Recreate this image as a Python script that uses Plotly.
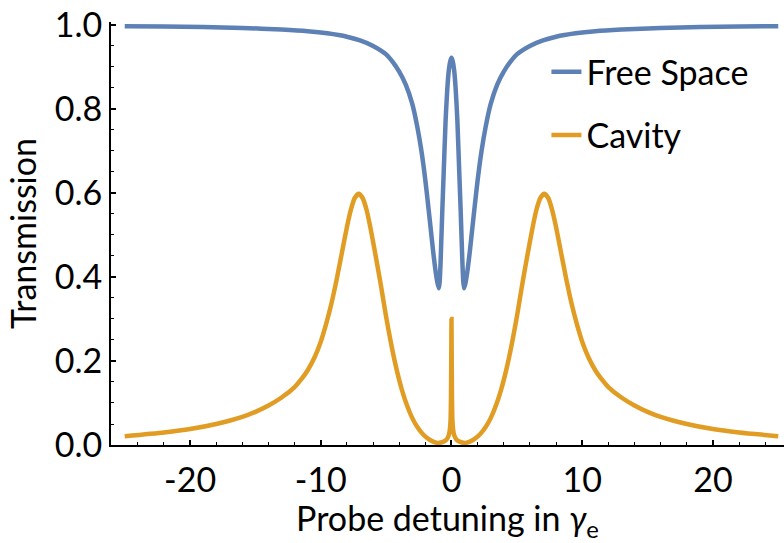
import plotly.graph_objects as go

# ---- data ----
free_x = [-25, -22, -19, -16, -13, -11, -9.5, -8, -7, -6, -5, -4.5, -4, -3.5, -3,
          -2.6, -2.3, -2.0, -1.8, -1.6, -1.4, -1.2, -1.08, -0.96, -0.9, -0.84, -0.78, -0.7,
          -0.6, -0.45, -0.32, -0.2, -0.1,
          0,
          0.1, 0.2, 0.32, 0.45, 0.6,
          0.7, 0.78, 0.84, 0.9, 0.96, 1.08, 1.2, 1.4, 1.6, 1.8, 2.0, 2.3, 2.6,
          3, 3.5, 4, 4.5, 5, 6, 7, 8, 9.5, 11, 13, 16, 19, 22, 25]
free_y = [0.997, 0.996, 0.995, 0.993, 0.989, 0.985, 0.980, 0.972, 0.963, 0.950, 0.930, 0.912, 0.889, 0.858, 0.812,
          0.755, 0.700, 0.630, 0.575, 0.518, 0.460, 0.410, 0.387, 0.373, 0.390, 0.430, 0.485, 0.560,
          0.645, 0.772, 0.848, 0.893, 0.913,
          0.922,
          0.913, 0.893, 0.848, 0.772, 0.645,
          0.560, 0.485, 0.430, 0.390, 0.373, 0.387, 0.410, 0.460, 0.518, 0.575, 0.630, 0.700, 0.755,
          0.812, 0.858, 0.889, 0.912, 0.930, 0.950, 0.963, 0.972, 0.980, 0.985, 0.989, 0.993, 0.995, 0.996, 0.997]

cav_x = [-25, -22, -20, -18, -16, -15, -14, -13, -12, -11.5, -11, -10.5, -10, -9.6, -9.2, -8.8, -8.4, -8.0,
         -7.7, -7.4, -7.1, -6.8, -6.5, -6.2, -5.8, -5.4, -5.0, -4.6, -4.2, -3.8, -3.4, -3.0,
         -2.6, -2.2, -1.8, -1.4, -1.1, -0.8, -0.55, -0.35, -0.2, -0.12, -0.07, -0.04, -0.02,
         0,
         0.02, 0.04, 0.07, 0.12, 0.2, 0.35, 0.55, 0.8, 1.1, 1.4, 1.8, 2.2, 2.6,
         3.0, 3.4, 3.8, 4.2, 4.6, 5.0, 5.4, 5.8, 6.2, 6.5, 6.8, 7.1, 7.4, 7.7,
         8.0, 8.4, 8.8, 9.2, 9.6, 10, 10.5, 11, 11.5, 12, 13, 14, 15, 16, 18, 20, 22, 25]
cav_y = [0.021, 0.030, 0.038, 0.050, 0.067, 0.079, 0.094, 0.113, 0.138, 0.156, 0.178, 0.207, 0.246, 0.287, 0.335, 0.392, 0.455, 0.519,
         0.560, 0.588, 0.598, 0.588, 0.560, 0.517, 0.450, 0.380, 0.305, 0.238, 0.180, 0.132, 0.094, 0.064,
         0.042, 0.026, 0.015, 0.008, 0.005, 0.006, 0.009, 0.014, 0.024, 0.038, 0.060, 0.110, 0.190,
         0.300,
         0.190, 0.110, 0.060, 0.038, 0.024, 0.014, 0.009, 0.006, 0.005, 0.008, 0.015, 0.026, 0.042,
         0.064, 0.094, 0.132, 0.180, 0.238, 0.305, 0.380, 0.450, 0.517, 0.560, 0.588, 0.598, 0.588, 0.560,
         0.519, 0.455, 0.392, 0.335, 0.287, 0.246, 0.207, 0.178, 0.156, 0.138, 0.113, 0.094, 0.079, 0.067, 0.050, 0.038, 0.030, 0.021]

x_tickvals = [-20, -10, 0, 10, 20]
x_ticktext = ["-20", "-10", "0", "10", "20"]
y_tickvals = [0.0, 0.2, 0.4, 0.6, 0.8, 1.0]

BLUE = "#5E81B5"
ORANGE = "#E19C24"
FONT = "Lato"
FS = 34

fig = go.Figure()
fig.add_trace(go.Scatter(x=free_x, y=free_y, mode="lines", name="Free Space",
                         line=dict(color=BLUE, width=4.5, shape="spline", smoothing=0.6),
                         legendgroup="a"))
fig.add_trace(go.Scatter(x=cav_x, y=cav_y, mode="lines", name="Cavity",
                         line=dict(color=ORANGE, width=4.5, shape="spline", smoothing=0.6),
                         legendgroup="b"))

fig.update_layout(
    width=784, height=543,
    margin=dict(l=111, r=0, t=22, b=98),
    paper_bgcolor="white", plot_bgcolor="white",
    font=dict(family=FONT, size=FS, color="black"),
    legend=dict(x=0.647, y=0.95, xanchor="left", yanchor="top",
                bgcolor="rgba(0,0,0,0)", tracegroupgap=16,
                font=dict(size=FS)),
    xaxis=dict(range=[-26.05, 25.44], showgrid=False, zeroline=False,
               showline=True, linecolor="black", linewidth=2,
               ticks="inside", ticklen=5, tickwidth=1.5, tickcolor="black",
               tickvals=x_tickvals, ticktext=x_ticktext, ticklabelstandoff=4,
               minor=dict(dtick=2, tick0=0, ticks="inside", ticklen=3, tickcolor="black", tickwidth=1.2),
               title=dict(text="Probe detuning in <i>γ</i><sub>e</sub>", standoff=10,
                          font=dict(size=FS))),
    yaxis=dict(range=[0, 1.007], showgrid=False, zeroline=False,
               showline=True, linecolor="black", linewidth=2,
               ticks="inside", ticklen=5, tickwidth=1.5, tickcolor="black",
               tickvals=y_tickvals, tickformat=".1f",
               minor=dict(dtick=0.05, tick0=0, ticks="inside", ticklen=3, tickcolor="black", tickwidth=1.2),
               title=dict(text="Transmission", standoff=8, font=dict(size=FS))),
)

fig.write_html("out.html")
